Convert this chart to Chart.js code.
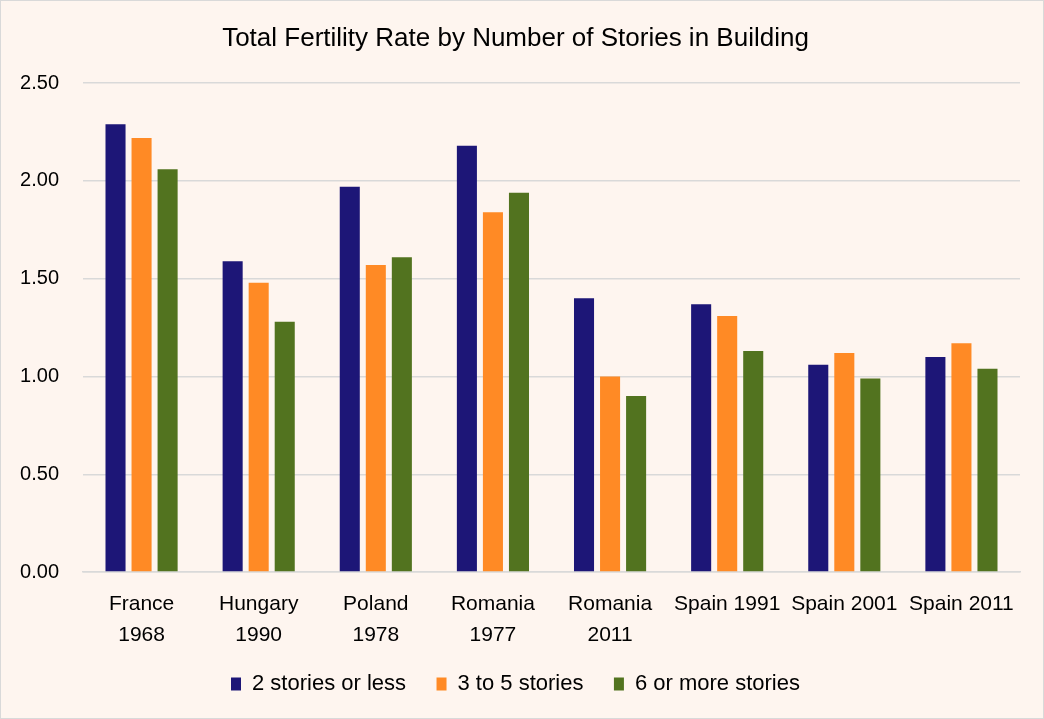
<!DOCTYPE html>
<html><head><meta charset="utf-8">
<script src="https://cdn.jsdelivr.net/npm/chart.js@4"></script>
<style>
html,body{margin:0;padding:0;background:#fff;}
#wrap{width:1042px;height:717px;border:1px solid #d9d9d9;background:#FEF5EF;}
canvas{display:block;}
</style></head><body>
<div id="wrap"><canvas id="c" width="1042" height="717"></canvas></div>
<script>
const categories = [["France","1968"],["Hungary","1990"],["Poland","1978"],["Romania","1977"],["Romania","2011"],"Spain 1991","Spain 2001","Spain 2011"];
const seriesNames = ["2 stories or less","3 to 5 stories","6 or more stories"];
const low = [2.29,1.59,1.97,2.18,1.40,1.37,1.06,1.10];
const mid = [2.22,1.48,1.57,1.84,1.00,1.31,1.12,1.17];
const high = [2.06,1.28,1.61,1.94,0.90,1.13,0.99,1.04];
const colors = ["#1D1677","#FF8A25","#52731F"];
const font = "'Liberation Sans Narrow','Arial Narrow','Liberation Sans',sans-serif";
const gap = "\u00A0\u00A0\u00A0\u00A0";

new Chart(document.getElementById('c'), {
  type:'bar',
  data:{labels:categories, datasets:[low,mid,high].map((d,i)=>({label:seriesNames[i],data:d,backgroundColor:colors[i],borderWidth:0,categoryPercentage:0.667,barPercentage:0.77}))},
  options:{
    responsive:false, animation:false,
    layout:{padding:{left:10,right:23,top:16,bottom:13}},
    plugins:{
      title:{display:true,text:'Total Fertility Rate by Number of Stories in Building',color:'#000',font:{family:font,size:26,weight:'normal'},padding:{top:6,bottom:29}},
      legend:{position:'bottom',labels:{color:'#000',font:{family:font,size:22},boxWidth:10,boxHeight:13,padding:6,
        generateLabels:(chart)=>{
          const items = Chart.defaults.plugins.legend.labels.generateLabels(chart);
          items.forEach((it,i)=>{ if(i<items.length-1) it.text = it.text + gap; });
          return items;
        }}},
      tooltip:{enabled:false}
    },
    scales:{
      x:{grid:{display:false,drawTicks:false},border:{color:'#d9d9d9',width:1.5},
        ticks:{color:'#000',font:{family:font,size:21,lineHeight:1.45},maxRotation:0,autoSkip:false,padding:17}},
      y:{min:0,max:2.5,grid:{color:'#d9d9d9',lineWidth:1.5,drawTicks:false},border:{display:false},
        afterFit:(s)=>{s.width=72;},
        ticks:{stepSize:0.5,color:'#000',font:{family:font,size:20},padding:24,callback:v=>v.toFixed(2)}}
    }
  }
});
</script></body></html>
